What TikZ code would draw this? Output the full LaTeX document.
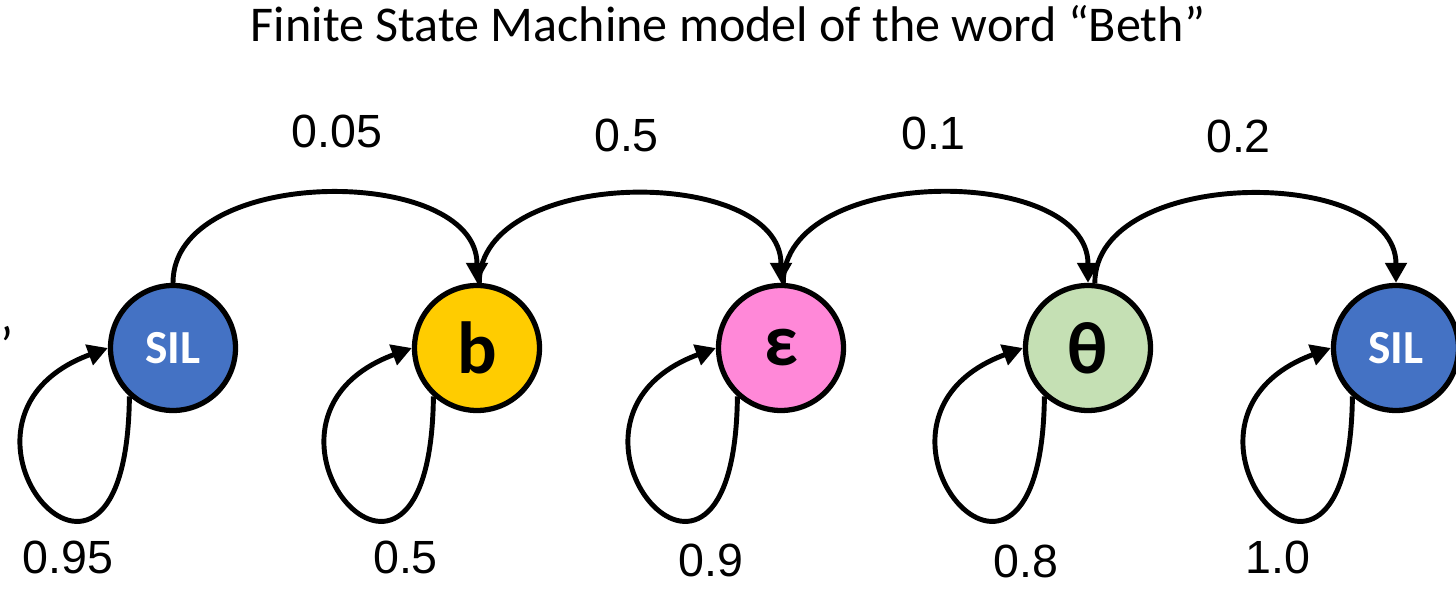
\documentclass[tikz,border=0pt]{standalone}
\usepackage{fontspec}
\setmainfont{Carlito}
\newfontfamily\numfont{Liberation Sans}
\usetikzlibrary{arrows.meta, shapes.geometric}
\definecolor{cSil}{RGB}{68,114,196}
\definecolor{cB}{RGB}{255,204,0}
\definecolor{cEps}{RGB}{255,136,216}
\definecolor{cTheta}{RGB}{197,224,180}
\tikzset{
	state/.style   ={circle, draw=black, line width=3pt, minimum size=2.5cm, inner sep=0pt, text centered, font=\fontsize{42}{46}\selectfont\bfseries},
	silstate/.style={state, fill=cSil, text=white, font=\fontsize{27}{30}\selectfont\bfseries},
	hop/.style     ={-{Triangle[length=0.4cm, width=0.42cm]}, line width=2.8pt},
	stayarrow/.style={hop},
	prob/.style    ={anchor=base, inner sep=1pt, font=\numfont\fontsize{26.5}{30}\selectfont},
}
\begin{document}
\begin{tikzpicture}
		\useasboundingbox (0,0) rectangle (29.12,11.78);
		\node[anchor=base, font=\fontsize{28.5}{32}\selectfont] (title) at (14.56,10.94) {Finite State Machine model of the word “Beth”};
		\node[anchor=base, font=\fontsize{30}{32}\selectfont] (tick) at (0.14,4.5) {’};
		% states
		\node[silstate] (s1) at (3.46,4.82) {SIL};
		\node[state, fill=cB] (b) at (9.54,4.82) {b};
		\node[state, fill=cEps] (eps) at (15.62,4.82) {ε};
		\node[state, fill=cTheta] (th) at (21.76,4.82) {θ};
		\node[silstate] (s2) at (27.92,4.82) {SIL};
		% forward transitions
		\draw[hop] (s1.north) to[out=90, in=90] (b.north);
		\draw[hop] (b.88) to[out=90, in=90] (eps.north);
		\draw[hop] (eps.88) to[out=90, in=90] (th.north);
		\draw[hop] (th.84) to[out=90, in=90] (s2.north);
		% self loops
		\foreach \s in {s1,b,eps,th,s2}
			\draw[stayarrow] (\s.228) .. controls +(-0.06,-5.46) and +(-3.9,-1.44) .. (\s.west);
		% probabilities
		\node[prob] (p1) at (6.74,8.82) {0.05};
		\node[prob] (p2) at (12.53,8.74) {0.5};
		\node[prob] (p3) at (18.67,8.78) {0.1};
		\node[prob] (p4) at (24.77,8.72) {0.2};
		\node[prob] (q1) at (1.36,0.3) {0.95};
		\node[prob] (q2) at (8.11,0.3) {0.5};
		\node[prob] (q3) at (14.22,0.24) {0.9};
		\node[prob] (q4) at (20.52,0.22) {0.8};
		\node[prob] (q5) at (25.56,0.3) {1.0};
\end{tikzpicture}
\end{document}
